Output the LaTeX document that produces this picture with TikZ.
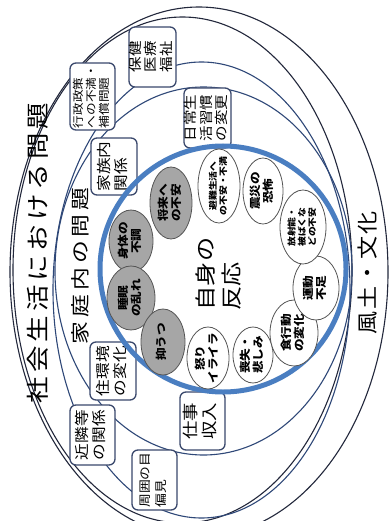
\documentclass[tikz,border=0pt]{standalone}
\usepackage{fontspec}
\setmainfont{Noto Sans CJK JP}
\usetikzlibrary{shapes.geometric}
\definecolor{linec}{RGB}{35,40,60}
\definecolor{navy}{RGB}{47,72,120}
\definecolor{boxc}{RGB}{58,72,108}
\definecolor{ovalc}{RGB}{85,85,85}
\definecolor{grayc}{RGB}{166,166,166}
\definecolor{bluec}{RGB}{74,126,193}
\newcommand{\stk}[2][c]{\scalebox{1.15}[1]{\begin{tabular}{@{}#1@{}}#2\end{tabular}}}
\begin{document}
\begin{tikzpicture}[x=1pt,y=-1pt,
	ring/.style={line width=1.1pt},
	box/.style={draw=boxc,line width=1.3pt,rounded corners=6pt,fill=white,rotate=90,inner sep=0pt},
	oval/.style={ellipse,draw=ovalc,line width=0.8pt,rotate=90,inner sep=0pt},
	txt/.style={rotate=90,inner sep=0pt}
]
\useasboundingbox (0,0) rectangle (390,521);
\fill[white] (0,0) rectangle (390,521);

% rings
\draw[ring,linec] (199,272) ellipse [x radius=189,y radius=265];
\draw[ring,linec] (182.5,270) ellipse [x radius=169.5,y radius=253];
\draw[ring,navy] (201.5,290) ellipse [x radius=148.5,y radius=228];
\draw[ring,navy] (203.5,271) ellipse [x radius=148.5,y radius=184];

\foreach \n/\x/\y/\w/\h/\fz/\lz/\t in {
	hoken/152.5/57/45/60/13.5/14.5/{保健\\医療\\福祉},
	gyosei/92.5/96.5/45/67/11/13/{行政政策\\への不満・\\補償問題},
	nichijo/207.5/118/45/60/13.5/14.5/{日常生\\活習慣\\の変更},
	kazoku/114/166.5/46/57/14.5/16.5/{家族内\\関係},
	jukankyo/113/371/46/58/14.5/16.5/{住環境\\の変化},
	shigoto/202.5/421/45/58/16/19/{仕事\\収入},
	kinrin/92.5/435/45/60/14.5/16.5/{近隣等\\の関係},
	shui/154.5/480/45/60/12/16/{周囲の目\\偏見}%
}{
	\node[box,minimum width=\h pt,minimum height=\w pt,font=\fontsize{\fz}{\lz}\selectfont] (\n) at (\x,\y) {\stk[l]{\t}};
}

\draw[line width=5pt,bluec] (223,269) circle [radius=123];

\foreach[count=\i] \x/\y/\w/\h/\f/\fz/\lz/\t in {
	171/203/42/72/grayc/11/13/{将来へ\\の不安},
	131/241/44/62/grayc/11/13/{身体の\\不調},
	131/298/48/64/grayc/11/13/{睡眠\\の乱れ},
	163/342/44/66/grayc/11/13/{抑うつ},
	208/358/42/62/white/11/13/{怒り\\イライラ},
	253/355/40/56/white/11/13/{喪失・\\悲しみ},
	294/333/48/66/white/11/13/{食行動\\の変化},
	316/288/46/64/white/11/13/{運動\\不足},
	303/227/46/74/white/8.5/10/{放射能・\\被ばくな\\どの不安},
	263/191/40/66/white/11/13/{震災の\\恐怖},
	219/186/42/74/white/8.5/10/{避難生活へ\\の不安・不満}%
}{
	\node[oval,fill=\f,minimum width=\h pt,minimum height=\w pt] (e\i) at (\x,\y) {};
	\node[txt,font=\fontsize{\fz}{\lz}\selectfont\bfseries] (t\i) at (e\i) {\stk{\t}};
}

\node[txt,font=\fontsize{21}{26}\selectfont] (jishin) at (221,274) {\stk[l]{自身の\\反応}};

\node[txt,font=\fontsize{23}{23}\selectfont] (shakai) at (38,253) {\scalebox{1.15}[1]{\addfontfeature{LetterSpace=15}社会生活における問題}};
\node[txt,font=\fontsize{19}{19}\selectfont] (katei) at (80,266) {\scalebox{1.2}[1]{\addfontfeature{LetterSpace=18}家庭内の問題}};
\node[txt,font=\fontsize{21}{21}\selectfont] (fudo) at (368,273) {\scalebox{1.1}[1]{\addfontfeature{LetterSpace=8}風土・文化}};

\end{tikzpicture}
\end{document}
